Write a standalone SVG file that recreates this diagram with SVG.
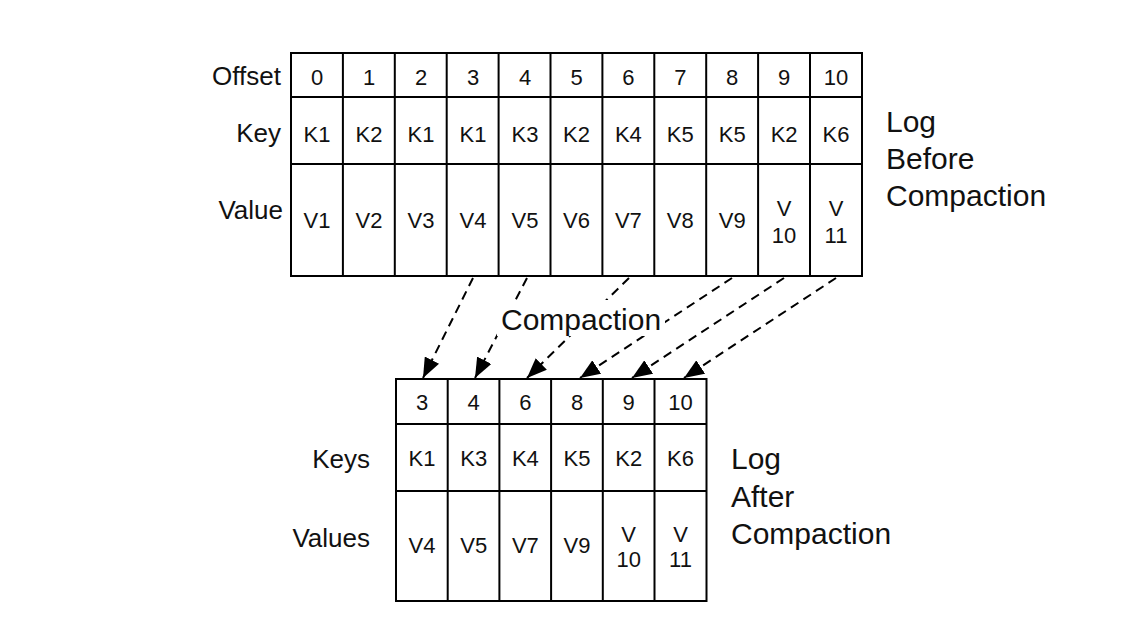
<svg xmlns="http://www.w3.org/2000/svg" width="1128" height="636" viewBox="0 0 1128 636">
<style>
.grid{fill:none;stroke:#000;stroke-width:2}
.cell{font-family:"Liberation Sans",Arial,sans-serif;font-size:22px;fill:#111;text-anchor:middle}
.lab{font-family:"Liberation Sans",Arial,sans-serif;font-size:26px;fill:#111;text-anchor:end}
.big{font-family:"Liberation Sans",Arial,sans-serif;font-size:30px;fill:#111}
.conn{fill:none;stroke:#000;stroke-width:2;stroke-dasharray:9 6}
</style>
<defs>
<marker id="ah" viewBox="0 0 20 16" refX="20" refY="8" markerWidth="20" markerHeight="16" markerUnits="userSpaceOnUse" orient="auto">
<path d="M0,0 L20,8 L0,16 Z" fill="#000"/>
</marker>
</defs>
<rect width="1128" height="636" fill="#fff"/>

<g id="connectors">
<line class="conn" x1="473" y1="278" x2="423" y2="378" marker-end="url(#ah)"/>
<line class="conn" x1="527" y1="278" x2="475" y2="378" marker-end="url(#ah)"/>
<line class="conn" x1="629" y1="278" x2="527" y2="378" marker-end="url(#ah)"/>
<line class="conn" x1="732" y1="278" x2="580" y2="378" marker-end="url(#ah)"/>
<line class="conn" x1="784" y1="278" x2="632" y2="378" marker-end="url(#ah)"/>
<line class="conn" x1="836" y1="278" x2="684" y2="378" marker-end="url(#ah)"/>
</g>

<g id="compaction-label">
<rect x="497" y="300" width="168" height="36" fill="#fff"/>
<text class="big" x="501" y="330">Compaction</text>
</g>

<g id="log-before">
<rect class="grid" x="291" y="53" width="571" height="223"/>
<line class="grid" x1="291" y1="97" x2="862" y2="97"/>
<line class="grid" x1="291" y1="164" x2="862" y2="164"/>
<path class="grid" d="M342.9,53V276M394.8,53V276M446.7,53V276M498.6,53V276M550.5,53V276M602.4,53V276M654.3,53V276M706.2,53V276M758.1,53V276M810,53V276"/>
<g class="cell">
<text x="317" y="85">0</text><text x="369" y="85">1</text><text x="421" y="85">2</text><text x="473" y="85">3</text><text x="525" y="85">4</text><text x="576.5" y="85">5</text><text x="628.4" y="85">6</text><text x="680.3" y="85">7</text><text x="732.2" y="85">8</text><text x="784.1" y="85">9</text><text x="836" y="85">10</text>
<text x="317" y="142">K1</text><text x="369" y="142">K2</text><text x="421" y="142">K1</text><text x="473" y="142">K1</text><text x="525" y="142">K3</text><text x="576.5" y="142">K2</text><text x="628.4" y="142">K4</text><text x="680.3" y="142">K5</text><text x="732.2" y="142">K5</text><text x="784.1" y="142">K2</text><text x="836" y="142">K6</text>
<text x="317" y="228">V1</text><text x="369" y="228">V2</text><text x="421" y="228">V3</text><text x="473" y="228">V4</text><text x="525" y="228">V5</text><text x="576.5" y="228">V6</text><text x="628.4" y="228">V7</text><text x="680.3" y="228">V8</text><text x="732.2" y="228">V9</text>
<text x="784.1" y="216">V</text><text x="784.1" y="243">10</text>
<text x="836" y="216">V</text><text x="836" y="243">11</text>
</g>
</g>

<g id="log-before-labels">
<text class="lab" x="281" y="85">Offset</text>
<text class="lab" x="281" y="142">Key</text>
<text class="lab" x="283" y="219">Value</text>
<text class="big" x="886" y="132">Log</text>
<text class="big" x="886" y="169">Before</text>
<text class="big" x="886" y="206">Compaction</text>
</g>

<g id="log-after">
<rect class="grid" x="396" y="379" width="310.5" height="222"/>
<line class="grid" x1="396" y1="424" x2="706.5" y2="424"/>
<line class="grid" x1="396" y1="491" x2="706.5" y2="491"/>
<path class="grid" d="M447.7,379V601M499.4,379V601M551.1,379V601M602.8,379V601M654.5,379V601"/>
<g class="cell">
<text x="422" y="410">3</text><text x="473.7" y="410">4</text><text x="525.4" y="410">6</text><text x="577" y="410">8</text><text x="628.7" y="410">9</text><text x="680.5" y="410">10</text>
<text x="422" y="466">K1</text><text x="473.7" y="466">K3</text><text x="525.4" y="466">K4</text><text x="577" y="466">K5</text><text x="628.7" y="466">K2</text><text x="680.5" y="466">K6</text>
<text x="422" y="553">V4</text><text x="473.7" y="553">V5</text><text x="525.4" y="553">V7</text><text x="577" y="553">V9</text>
<text x="628.7" y="542">V</text><text x="628.7" y="567">10</text>
<text x="680.5" y="542">V</text><text x="680.5" y="567">11</text>
</g>
</g>

<g id="log-after-labels">
<text class="lab" x="370" y="468">Keys</text>
<text class="lab" x="370" y="547">Values</text>
<text class="big" x="731" y="469">Log</text>
<text class="big" x="731" y="507">After</text>
<text class="big" x="731" y="544">Compaction</text>
</g>
</svg>
